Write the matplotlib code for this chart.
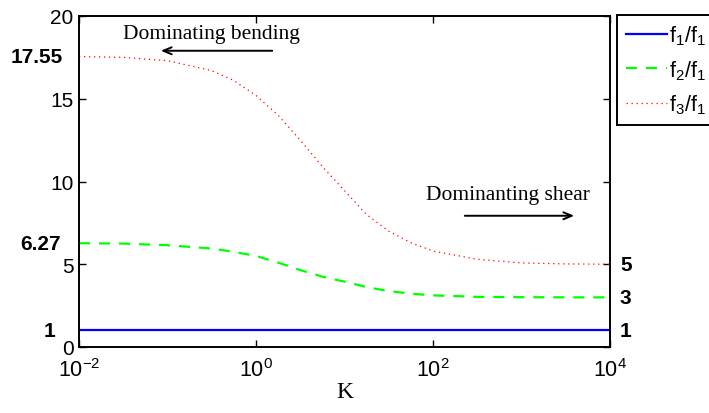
import numpy as np
import matplotlib
matplotlib.use("Agg")
import matplotlib.pyplot as plt

plt.rcParams['font.family'] = ['Liberation Sans', 'DejaVu Sans']
plt.rcParams['mathtext.fontset'] = 'custom'
plt.rcParams['mathtext.rm'] = 'Liberation Sans'
plt.rcParams['mathtext.it'] = 'Liberation Sans:italic'
plt.rcParams['mathtext.default'] = 'regular'

# Data
log_K = [-2, -1.5, -1, -0.5, -0.25, 0, 0.25, 0.5, 0.75, 1.0, 1.25, 1.5, 1.75, 2.0, 2.5, 3.0, 3.5, 4.0]
ratio_f1 = [1.0] * len(log_K)
ratio_f2 = [6.27, 6.25, 6.15, 5.95, 5.75, 5.5, 5.1, 4.65, 4.25, 3.95, 3.62, 3.38, 3.22, 3.12, 3.03, 3.01, 3.0, 3.0]
ratio_f3 = [17.55, 17.5, 17.3, 16.7, 16.1, 15.2, 14.0, 12.5, 10.9, 9.45, 8.0, 7.0, 6.3, 5.8, 5.3, 5.08, 5.02, 5.0]
series_labels = ['f$_1$/f$_1$', 'f$_2$/f$_1$', 'f$_3$/f$_1$']
left_labels = ['17.55', '6.27', '1']
left_values = [17.55, 6.27, 1]
right_labels = ['5', '3', '1']
right_values = [5, 3, 1]
x_ticks = [1e-2, 1e0, 1e2, 1e4]
y_ticks = [0, 5, 10, 15, 20]

K = [10 ** v for v in log_K]

fig = plt.figure(figsize=(7.09, 4.14), dpi=100)
ax = fig.add_axes([79 / 709, (414 - 348) / 414, 531 / 709, 331 / 414])

ax.plot(K, ratio_f1, color=(0, 0, 1), lw=1.6, label=series_labels[0])
ax.plot(K, ratio_f2, color=(0, 1, 0), lw=1.6, ls=(0, (5, 4)), label=series_labels[1])
ax.plot(K, ratio_f3, color=(1, 0, 0), lw=0.9, ls=(0, (1, 3)), label=series_labels[2])

ax.set_xscale('log')
ax.set_xlim(1e-2, 1e4)
ax.set_ylim(0, 20)
ax.set_xticks(x_ticks)
ax.xaxis.set_minor_locator(matplotlib.ticker.NullLocator())
ax.set_yticks(y_ticks)
ax.tick_params(direction='in', length=5, width=1.0, top=True, right=True,
               labelsize=15, pad=4)
ax.tick_params(axis='x', pad=8, labelsize=15.5)
for s in ax.spines.values():
    s.set_linewidth(1.4)

ax.set_xlabel('K', family='Liberation Serif', fontsize=17, labelpad=0)

# Bold value labels
left_offsets = [-16, -18, -24]
for lab, v, off in zip(left_labels, left_values, left_offsets):
    ax.annotate(lab, xy=(0, v), xycoords=('axes fraction', 'data'),
                xytext=(off, 0), textcoords='offset pixels',
                ha='right', va='center', fontsize=15, fontweight='bold')
for lab, v in zip(right_labels, right_values):
    ax.annotate(lab, xy=(1, v), xycoords=('axes fraction', 'data'),
                xytext=(10, 0), textcoords='offset pixels',
                ha='left', va='center', fontsize=15, fontweight='bold')

# Annotations
ax.text(10 ** -0.508, 18.95, 'Dominating bending', family='Liberation Serif',
        fontsize=15.5, ha='center', va='center')
ax.annotate('', xy=(10 ** -1.107, 17.9), xytext=(10 ** 0.215, 17.9),
            arrowprops=dict(arrowstyle='->,head_length=0.6,head_width=0.25', color='black', lw=1.4))
ax.text(10 ** 2.85, 9.24, 'Dominanting shear', family='Liberation Serif',
        fontsize=15.5, ha='center', va='center')
ax.annotate('', xy=(10 ** 3.627, 7.93), xytext=(10 ** 2.328, 7.93),
            arrowprops=dict(arrowstyle='->,head_length=0.6,head_width=0.25', color='black', lw=1.4))

leg = ax.legend(loc='upper left', bbox_to_anchor=(617 / 709, (414 - 16) / 414),
                bbox_transform=fig.transFigure, borderaxespad=0, fontsize=15.5,
                handlelength=1.9, handletextpad=0.12, labelspacing=0.5,
                fancybox=False, framealpha=1, edgecolor='black', borderpad=0.4)
leg.get_frame().set_linewidth(1.4)

fig.savefig('out.png', dpi=100)
